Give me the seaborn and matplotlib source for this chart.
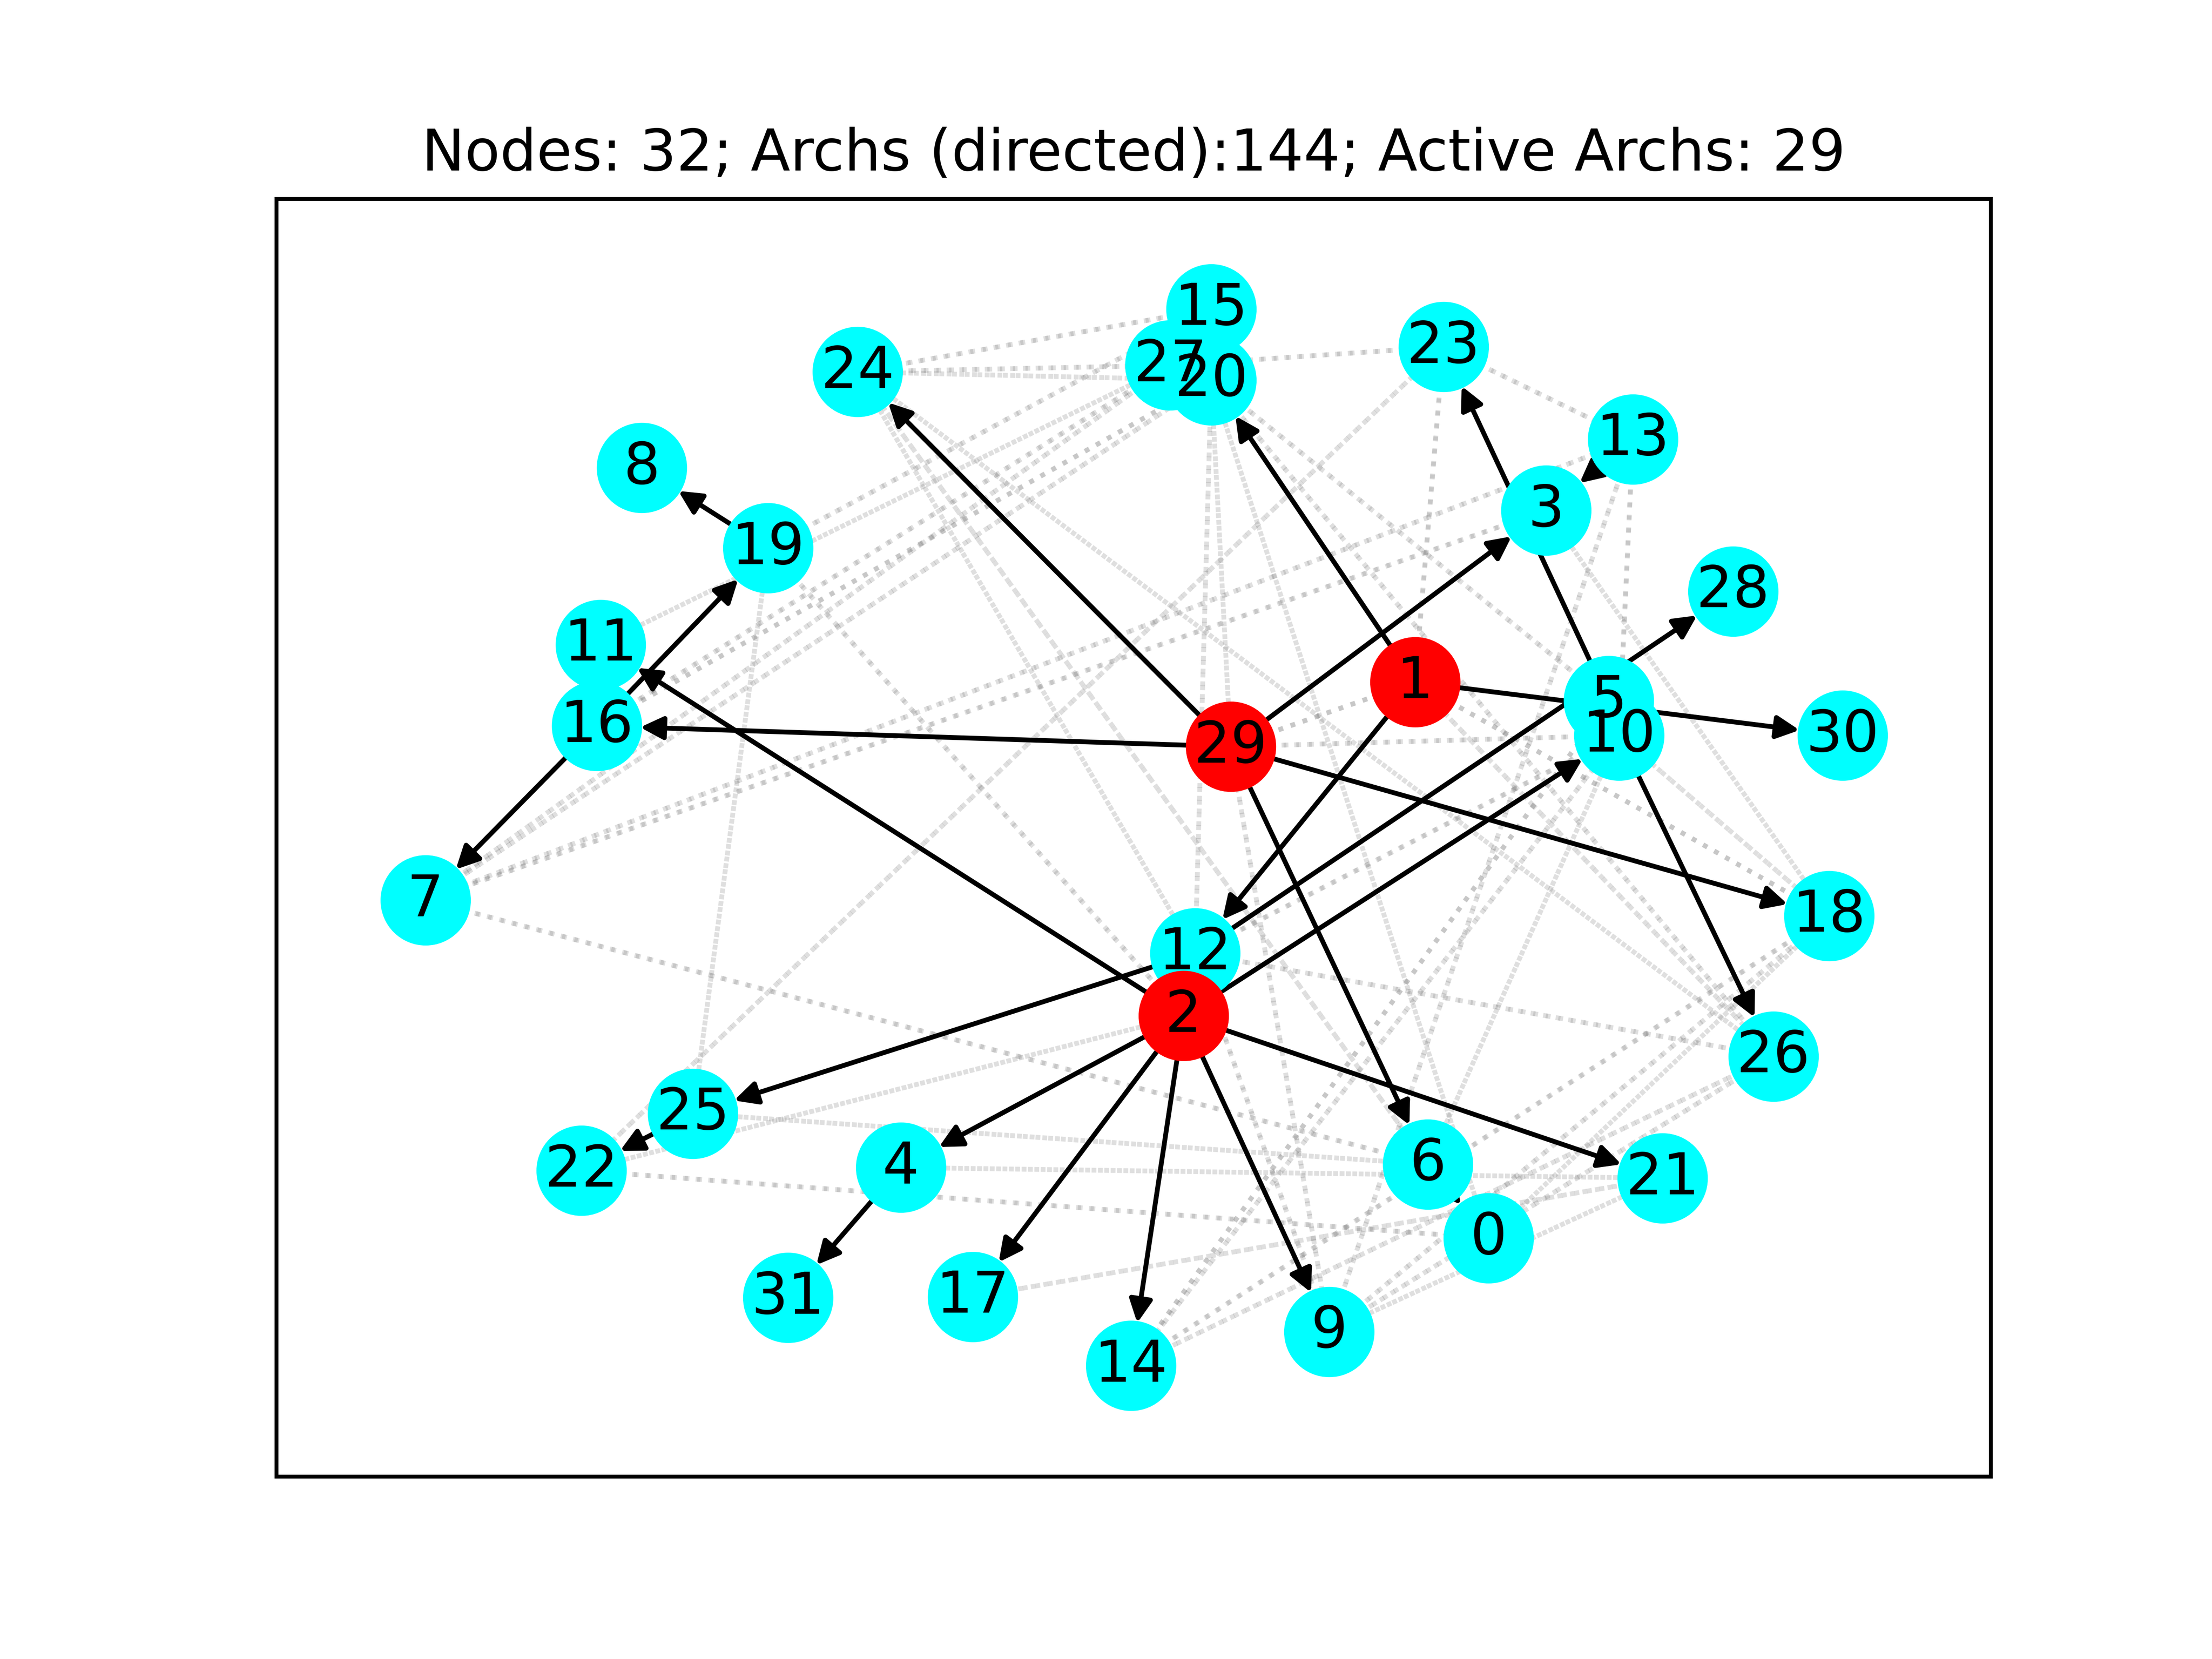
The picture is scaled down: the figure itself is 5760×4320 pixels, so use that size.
import matplotlib
matplotlib.use("Agg")
import matplotlib.pyplot as plt
from matplotlib.patches import FancyArrowPatch
import pandas as pd
import seaborn as sns

# ---------------- data ----------------
node_ids = list(range(32))
node_x = [1055.3, 1003.2, 839.1, 1096.2, 638.6, 1140.5, 1012.3, 301.6, 455.0, 942.3,
          1147.8, 425.8, 847.3, 1157.6, 801.7, 858.7, 423.2, 689.6, 1296.8, 544.6,
          858.7, 1178.6, 412.2, 1023.3, 608.0, 491.2, 1257.2, 829.6, 1228.6, 872.5,
          1306.2, 558.7]
node_y = [877.8, 483.6, 720.2, 361.9, 827.7, 496.9, 825.4, 638.2, 331.6, 944.2,
          521.4, 457.0, 675.8, 311.4, 968.2, 219.0, 514.6, 919.4, 649.3, 388.5,
          269.5, 835.3, 829.9, 245.9, 263.6, 789.5, 748.9, 259.0, 419.2, 529.3,
          521.4, 920.0]
active_nodes = [1, 2, 29]

# active (directed) arcs
active_src = [1, 1, 1, 29, 29, 29, 29, 29, 2, 2, 2, 2, 2, 2, 2, 12, 12, 5, 10, 16, 16, 19, 4, 25, 13, 6]
active_dst = [20, 12, 30, 24, 3, 16, 18, 6, 11, 10, 4, 17, 14, 9, 21, 25, 28, 23, 26, 19, 7, 8, 31, 22, 3, 0]

# inactive edges (present in both directions)
gray_u = [24, 24, 24, 27, 23, 23, 22, 25, 11, 16, 16, 7, 7, 7, 7, 7, 24, 24, 24, 20,
          20, 29, 20, 20, 20, 1, 29, 29, 12, 26, 12, 13, 13, 3, 10, 1, 0, 9, 14, 26,
          26, 14, 14, 6, 4, 17, 9, 22, 25, 22, 19, 19]
gray_v = [15, 27, 20, 23, 13, 1, 23, 19, 27, 27, 20, 27, 20, 3, 13, 6, 26, 6, 12, 12,
          29, 9, 0, 5, 26, 26, 1, 10, 10, 12, 9, 10, 9, 18, 18, 18, 18, 18, 18, 14,
          9, 5, 10, 10, 21, 21, 21, 0, 6, 2, 2, 15]

title_text = "Nodes: 32; Archs (directed):144; Active Archs: 29"

# ---------------- plot ----------------
fig, ax = plt.subplots(figsize=(6.4, 4.8), dpi=900)

# inactive edges: dotted gray, drawn once per direction
for u, v in zip(gray_u, gray_v):
    ax.plot([node_x[u], node_x[v]], [node_y[u], node_y[v]], linestyle=':',
            color='gray', alpha=0.25, linewidth=1.0, zorder=1)
    ax.plot([node_x[v], node_x[u]], [node_y[v], node_y[u]], linestyle=':',
            color='gray', alpha=0.25, linewidth=1.0, zorder=1)

# active arcs: black arrows
shrink = 9.0
for s, t in zip(active_src, active_dst):
    arr = FancyArrowPatch((node_x[s], node_y[s]), (node_x[t], node_y[t]),
                          arrowstyle='-|>', mutation_scale=10, linewidth=1.0,
                          color='black', shrinkA=shrink, shrinkB=shrink, zorder=1)
    ax.add_patch(arr)

df = pd.DataFrame({"x": node_x, "y": node_y, "id": node_ids})
df["active"] = df["id"].isin(active_nodes)

sns.scatterplot(data=df[~df["active"]], x="x", y="y", color="#00ffff", s=300,
                edgecolor="face", linewidth=1.5, legend=False, ax=ax, zorder=2)
sns.scatterplot(data=df[df["active"]], x="x", y="y", color="#ff0000", s=300,
                edgecolor="face", linewidth=1.5, legend=False, ax=ax, zorder=2)

for i, x, y in zip(node_ids, node_x, node_y):
    ax.text(x, y, str(i), fontsize=12, ha='center', va='center', color='black', zorder=3)

ax.set_xlim(196.0, 1411.4)
ax.set_ylim(1046.8, 141.1)
ax.set_xlabel("")
ax.set_ylabel("")
ax.set_xticks([])
ax.set_yticks([])
ax.set_title(title_text, fontsize=12)

fig.savefig("out.png", dpi=900)
